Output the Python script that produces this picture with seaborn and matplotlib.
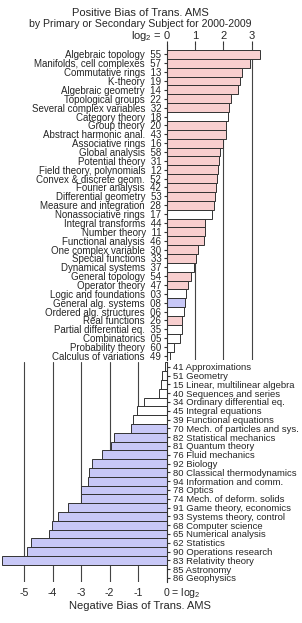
import numpy as np
import pandas as pd
import matplotlib
matplotlib.use("Agg")
import matplotlib.pyplot as plt
import matplotlib.transforms as mtransforms
import seaborn as sns

# subjects with positive bias (log2 ratio), top block
top_names = [
    "Algebraic topology", "Manifolds, cell complexes", "Commutative rings", "K-theory",
    "Algebraic geometry", "Topological groups", "Several complex variables", "Category theory",
    "Group theory", "Abstract harmonic anal.", "Associative rings", "Global analysis",
    "Potential theory", "Field theory, polynomials", "Convex & discrete geom.", "Fourier analysis",
    "Differential geometry", "Measure and integration", "Nonassociative rings", "Integral transforms",
    "Number theory", "Functional analysis", "One complex variable", "Special functions",
    "Dynamical systems", "General topology", "Operator theory", "Logic and foundations",
    "General alg. systems", "Ordered alg. structures", "Real functions", "Partial differential eq.",
    "Combinatorics", "Probability theory", "Calculus of variations",
]
top_codes = ["55", "57", "13", "19", "14", "22", "32", "18", "20", "43", "16", "58",
             "31", "12", "52", "42", "53", "28", "17", "44", "11", "46", "30", "33",
             "37", "54", "47", "03", "08", "06", "26", "35", "05", "60", "49"]
top_vals = [3.27, 2.92, 2.65, 2.57, 2.51, 2.28, 2.21, 2.15, 2.10, 2.08, 1.99, 1.87,
            1.84, 1.80, 1.79, 1.73, 1.72, 1.66, 1.59, 1.37, 1.34, 1.33, 1.09, 1.05,
            0.98, 0.87, 0.75, 0.68, 0.64, 0.60, 0.55, 0.53, 0.49, 0.28, 0.13]
top_sig = ["pos", "pos", "pos", "pos", "pos", "pos", "pos", "ns", "pos", "pos", "pos", "pos",
           "pos", "pos", "pos", "pos", "pos", "pos", "ns", "pos", "pos", "pos", "pos", "pos",
           "ns", "pos", "pos", "ns", "neg", "ns", "pos", "ns", "ns", "ns", "ns"]

# subjects with negative bias, bottom block
bot_names = [
    "Approximations", "Geometry", "Linear, multilinear algebra", "Sequences and series",
    "Ordinary differential eq.", "Integral equations", "Functional equations",
    "Mech. of particles and sys.", "Statistical mechanics", "Quantum theory", "Fluid mechanics",
    "Biology", "Classical thermodynamics", "Information and comm.", "Optics",
    "Mech. of deform. solids", "Game theory, economics", "Systems theory, control",
    "Computer science", "Numerical analysis", "Statistics", "Operations research",
    "Relativity theory", "Astronomy", "Geophysics",
]
bot_codes = ["41", "51", "15", "40", "34", "45", "39", "70", "82", "81", "76", "92", "80",
             "94", "78", "74", "91", "93", "68", "65", "62", "90", "83", "85", "86"]
bot_vals = [-0.05, -0.16, -0.21, -0.26, -0.79, -1.05, -1.19, -1.25, -1.85, -1.96, -2.25,
            -2.62, -2.72, -2.76, -3.00, -3.01, -3.46, -3.81, -4.04, -4.14, -4.75, -4.90,
            -5.77, np.nan, np.nan]
bot_sig = ["ns"] * 7 + ["neg"] * 18

palette = {"pos": "#FFC8C8", "neg": "#C0C0FF", "ns": "#FFFFFF"}

sns.set_style("white")
plt.rcParams["font.family"] = ["Liberation Sans", "DejaVu Sans"]
plt.rcParams["mathtext.default"] = "regular"

top = pd.DataFrame({"label": [f"{n}  {c}" for n, c in zip(top_names, top_codes)],
                    "val": top_vals, "sig": top_sig})
bot = pd.DataFrame({"label": [f"{c} {n}" for n, c in zip(bot_names, bot_codes)],
                    "val": bot_vals, "sig": bot_sig})

fig = plt.figure(figsize=(3.02, 6.23), dpi=100)
W, H = 302, 623
x0 = 166.5
ppu = 28.45

# upper block: bars to the right, labels on the left
ax1 = fig.add_axes([x0 / W, 1 - 360.4 / H, 3.35 * ppu / W, 315.4 / H])
sns.barplot(data=top, x="val", y="label", hue="sig", palette=palette, order=top["label"],
            orient="h", width=1.0, dodge=False, legend=False, edgecolor="#333333",
            linewidth=0.7, ax=ax1)
ax1.set_xlim(0, 3.35)
ax1.set_ylim(34.5, -1.064)
ax1.set_axisbelow(True)
ax1.grid(axis="x", color="#444444", lw=0.8)
ax1.grid(axis="y", visible=False)
for s in ["top", "right", "bottom"]:
    ax1.spines[s].set_visible(False)
ax1.spines["left"].set_color("#333333")
ax1.spines["left"].set_linewidth(0.8)
ax1.xaxis.tick_top()
ax1.set_xticks([0, 1, 2, 3])
ax1.set_xticklabels(["log$_2$ = 0", "1", "2", "3"])
ax1.tick_params(axis="x", length=3, width=0.8, color="#333333", pad=1.3, labelsize=8)
ax1.tick_params(axis="y", length=2.5, width=0.8, color="#333333", pad=1.2, labelsize=7.0,
                left=True)
for t in ax1.get_xticklabels():
    t.set_va("baseline")
lab0 = ax1.get_xticklabels()[0]
lab0.set_ha("right")
lab0.set_transform(lab0.get_transform() + mtransforms.ScaledTranslation(3.5 / 72, 0, fig.dpi_scale_trans))
ax1.set_xlabel("")
ax1.set_ylabel("")

# lower block: bars to the left, labels on the right
ax2 = fig.add_axes([0, 1 - 582.4 / H, x0 / W, 220.1 / H])
sns.barplot(data=bot, x="val", y="label", hue="sig", palette=palette, order=bot["label"],
            orient="h", width=1.0, dodge=False, legend=False, edgecolor="#333333",
            linewidth=0.7, ax=ax2)
ax2.set_xlim(-x0 / ppu, 0)
ax2.set_ylim(24.5, -0.5)
ax2.set_axisbelow(True)
ax2.grid(axis="x", color="#444444", lw=0.8)
ax2.grid(axis="y", visible=False)
for s in ["top", "left", "bottom"]:
    ax2.spines[s].set_visible(False)
ax2.spines["right"].set_color("#333333")
ax2.spines["right"].set_linewidth(0.8)
ax2.yaxis.tick_right()
ax2.set_xticks([-5, -4, -3, -2, -1, 0])
ax2.set_xticklabels(["-5", "-4", "-3", "-2", "-1", "0 = log$_2$"])
ax2.tick_params(axis="x", length=2.5, width=0.8, color="#333333", pad=7.6, labelsize=7.6)
ax2.tick_params(axis="y", length=2.5, width=0.8, color="#333333", pad=2.2, labelsize=6.8,
                right=True, left=False)
for t in ax2.get_xticklabels():
    t.set_va("baseline")
labz = ax2.get_xticklabels()[-1]
labz.set_ha("left")
labz.set_transform(labz.get_transform() + mtransforms.ScaledTranslation(-2.5 / 72, 0, fig.dpi_scale_trans))
ax2.set_xlabel("")
ax2.set_ylabel("")

fig.text(140 / W, 1 - 606 / H, "Negative Bias of Trans. AMS", ha="center", va="center", fontsize=8)
fig.text(140 / W, 1 - 13 / H, "Positive Bias of Trans. AMS", ha="center", va="center", fontsize=8)
fig.text(140 / W, 1 - 24 / H, "by Primary or Secondary Subject for 2000-2009",
         ha="center", va="center", fontsize=7.6)

fig.savefig("out.png", dpi=100)
